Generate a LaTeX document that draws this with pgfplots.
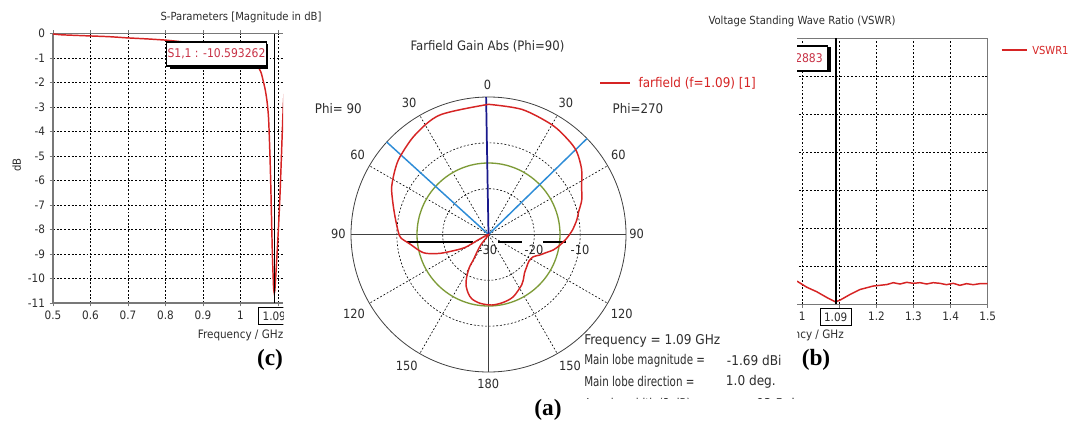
\documentclass[border=0pt]{standalone}
\usepackage{pgfplots}
\pgfplotsset{compat=1.18}
\usepackage{pgfplotstable}
\usepackage{fontspec}
\setmainfont{Liberation Serif}
\newfontfamily\tah{DejaVu Sans Condensed}
\newcommand{\cst}[1]{\tah\fontsize{#1}{#1}\selectfont}
\definecolor{cstred}{RGB}{214,36,36}
\definecolor{mkred}{RGB}{200,50,70}
\definecolor{axgray}{RGB}{120,120,120}
\definecolor{lblue}{RGB}{45,140,215}
\definecolor{navy}{RGB}{25,25,140}
\definecolor{olive}{RGB}{125,155,55}
\definecolor{txt}{RGB}{45,45,45}

% S11 (dB) vs frequency (GHz)
\pgfplotstableread{
f s
0.500 -0.02
0.520 -0.05
0.550 -0.07
0.600 -0.10
0.650 -0.13
0.700 -0.18
0.750 -0.22
0.800 -0.27
0.850 -0.35
0.900 -0.45
0.950 -0.60
1.000 -0.85
1.030 -1.05
1.045 -1.30
1.055 -1.60
1.060 -1.90
1.066 -2.30
1.071 -2.80
1.075 -3.50
1.079 -5.20
1.082 -7.00
1.085 -9.00
1.088 -10.30
1.090 -10.59
1.092 -10.40
1.096 -9.40
1.101 -8.00
1.105 -6.70
1.108 -5.50
1.111 -4.20
1.114 -3.00
1.117 -2.20
}\sdata

% VSWR vs frequency (GHz)
\pgfplotstableread{
f v
0.950 2.55
0.988 2.395
1.012 2.25
1.039 2.13
1.066 1.98
1.088 1.87
1.090 1.865
1.102 1.91
1.129 2.06
1.156 2.19
1.191 2.28
1.228 2.32
1.2455 2.369
1.2635 2.334
1.2815 2.378
1.2995 2.352
1.3175 2.369
1.3355 2.334
1.353 2.369
1.371 2.352
1.389 2.316
1.407 2.352
1.425 2.299
1.443 2.343
1.461 2.316
1.479 2.343
1.500 2.343
}\vswr

% farfield gain (dBi) vs theta (deg, clockwise from top)
\pgfplotstableread{
t g
0 -1.6
15 -1.75
30 -2.35
40 -3.0
46.8 -3.6
55 -5.2
62.8 -7.16
69.7 -8.31
76 -9.75
80.7 -10.49
86.9 -11.65
92.8 -12.92
98.4 -14.23
103.4 -15.47
108.1 -17.02
111.7 -17.91
116.4 -19.09
123.2 -19.44
130.1 -19.09
136.9 -18.5
142.6 -17.5
146.7 -16.82
158.3 -15.38
168 -14.83
177.4 -14.6
187 -14.88
194.3 -15.47
199 -16.43
204 -17.93
207.3 -19.64
210.3 -21.8
210.8 -23.52
213.3 -25.44
216.9 -27.27
225 -30
242.4 -27.4
241.1 -24.13
246.2 -20.82
249.4 -18.22
254.4 -15.23
263.1 -12.74
267.7 -10.89
271.6 -10.32
280.8 -9.23
289.8 -7.74
296.3 -6.44
304.6 -5.21
311.3 -4.30
323.6 -3.0
337.9 -1.85
360 -1.6
}\farf

\pgfplotstableread{
t g
-47.75 -30
-47.75 0
}\bwl
\pgfplotstableread{
t g
45.75 -30
45.75 0
}\bwr
\pgfplotstableread{
t g
-1 -30
-1 0
}\mainlobe

\begin{document}
\begin{tikzpicture}
\useasboundingbox (0,0) rectangle (802.5pt,-318.75pt);
\clip (0,0) rectangle (802.5pt,-318.75pt);
\fill[white] (0,0) rectangle (802.5pt,-318.75pt);

% ---------------- (c) S-parameters ----------------
\begin{scope}
\clip (0,0) rectangle (212.6pt,-318.75pt);
\begin{axis}[
  scale only axis, width=172.5pt, height=202.125pt,
  at={(39.75pt,-25.125pt)}, anchor=north west,
  xmin=0.5, xmax=1.11333, ymin=-11, ymax=0,
  axis x line*=box, axis y line*=left,
  axis line style={axgray, line width=0.8pt},
  xtick={0.5,0.6,0.7,0.8,0.9,1.0,1.1},
  xticklabels={0.5,0.6,0.7,0.8,0.9,1,},
  ytick={-11,-10,-9,-8,-7,-6,-5,-4,-3,-2,-1,0},
  yticklabels={-11,-10,-9,-8,-7,-6,-5,-4,-3,-2,-1,0},
  tick align=outside, major tick length=2.5pt,
  tick style={axgray, line width=0.6pt},
  grid=major, grid style={black, line width=0.5pt, dash pattern=on 1.4pt off 1.4pt},
  ticklabel style={font=\cst{8.7}, text=txt},
  clip mode=individual,
]
\addplot[cstred, line width=1.1pt, smooth, tension=0.4] table[x=f, y=s] {\sdata};
\addplot[black, line width=1.1pt] coordinates {(1.09,-11) (1.09,0)};
\node[draw=black, line width=0.5pt, anchor=north, minimum width=23.25pt, minimum height=12.75pt, inner sep=1pt, font=\cst{8.7}, text=txt] at (axis cs:1.09,-11) [yshift=-3pt] {1.09};
\end{axis}
\end{scope}

\begin{scope}[x=0.75pt,y=-0.75pt]
\node[font=\cst{8.4}, text=txt] at (241,17) {S-Parameters [Magnitude in dB]};
\node[font=\cst{8.4}, text=txt, rotate=90] at (16.7,165) {dB};
\begin{scope}
\clip (0,0) rectangle (283.8,425);
\node[font=\cst{8.7}, text=txt, anchor=east, inner sep=0pt] at (283.5,335) {Frequency / GHz};
\end{scope}
\draw[black, line width=1.6pt] (170,67.5) -- (266.5,67.5) -- (266.5,43.5);
\node[draw=black, line width=0.9pt, fill=white, minimum width=72.75pt, minimum height=18pt, inner sep=1pt, font=\cst{9}, text=mkred] at (216.5,54) {S1,1 : -10.593262};
\node[font=\bfseries\fontsize{17.5}{18}\selectfont] at (270,360) {(c)};
\end{scope}

% ---------------- (a) polar ----------------
\begin{scope}[x=0.75pt,y=-0.75pt]
\def\cx{488.5}\def\cy{234.5}
\foreach \a in {30,60,120,150,-30,-60,-120,-150}
  \draw[black, line width=0.45pt, dash pattern=on 1.4pt off 1.4pt] (\cx,\cy) -- ++(\a-90:137.5);
\draw[black, line width=0.45pt, dash pattern=on 1.4pt off 1.4pt] (\cx,\cy) circle[radius=45.83];
\draw[black, line width=0.45pt, dash pattern=on 1.4pt off 1.4pt] (\cx,\cy) circle[radius=91.67];
\draw[black!75, line width=0.6pt] (\cx,\cy) circle[radius=137.5];
\draw[black!75, line width=0.6pt] (351,\cy) -- (626,\cy);
\draw[black!75, line width=0.6pt] (\cx,\cy) -- (\cx,372);
\draw[olive, line width=1pt] (\cx,\cy) circle[radius=71.5];
\draw[black, line width=1.7pt] (406.7,241.7) -- (473.3,241.7);
\draw[black, line width=1.7pt] (498.3,241.7) -- (521.7,241.7);
\draw[black, line width=1.7pt] (543.3,241.7) -- (566,241.7);
\end{scope}

\begin{axis}[
  hide axis, scale only axis, width=206.25pt, height=206.25pt,
  at={(366.375pt,-175.875pt)}, anchor=center,
  xmin=-30, xmax=30, ymin=-30, ymax=30, clip=false,
]
\addplot[lblue, line width=1.1pt] table[x expr={(\thisrow{g}+30)*sin(\thisrow{t})}, y expr={(\thisrow{g}+30)*cos(\thisrow{t})}] {\bwl};
\addplot[lblue, line width=1.1pt] table[x expr={(\thisrow{g}+30)*sin(\thisrow{t})}, y expr={(\thisrow{g}+30)*cos(\thisrow{t})}] {\bwr};
\addplot[navy, line width=1.3pt] table[x expr={(\thisrow{g}+30)*sin(\thisrow{t})}, y expr={(\thisrow{g}+30)*cos(\thisrow{t})}] {\mainlobe};
\addplot[cstred, line width=1.1pt, smooth, tension=0.5] table[x expr={(\thisrow{g}+30)*sin(\thisrow{t})}, y expr={(\thisrow{g}+30)*cos(\thisrow{t})}] {\farf};
\end{axis}

\begin{scope}[x=0.75pt,y=-0.75pt]
\node[font=\cst{9.75}, text=txt] at (487.5,46.7) {Farfield Gain Abs (Phi=90)};
\node[font=\cst{9.5}, text=txt] at (487.5,85) {0};
\node[font=\cst{9.5}, text=txt] at (409,103.3) {30};
\node[font=\cst{9.5}, text=txt] at (565.8,103.3) {30};
\node[font=\cst{9.5}, text=txt] at (357.5,155) {60};
\node[font=\cst{9.5}, text=txt] at (618.3,155) {60};
\node[font=\cst{9.5}, text=txt] at (338.3,234.3) {90};
\node[font=\cst{9.5}, text=txt] at (636.7,234.3) {90};
\node[font=\cst{9.5}, text=txt] at (354,314.3) {120};
\node[font=\cst{9.5}, text=txt] at (621.7,314.3) {120};
\node[font=\cst{9.5}, text=txt] at (406.7,365.7) {150};
\node[font=\cst{9.5}, text=txt] at (570,365.7) {150};
\node[font=\cst{9.5}, text=txt] at (488.3,384.3) {180};
\node[font=\cst{9.5}, text=txt] at (487.7,250) {-30};
\node[font=\cst{9.5}, text=txt] at (534,250) {-20};
\node[font=\cst{9.5}, text=txt] at (580,250) {-10};
\node[font=\cst{9.9}, text=txt] at (338.3,108.3) {Phi= 90};
\node[font=\cst{9.9}, text=txt] at (638,108.3) {Phi=270};
\draw[draw=cstred, line width=1.3pt] (600,83.3) -- (630,83.3);
\node[font=\cst{10}, text=cstred, anchor=west, inner sep=0pt] at (638.3,83.3) {farfield (f=1.09) [1]};
\node[font=\cst{10.1}, text=txt, anchor=west, inner sep=0pt] at (584,340.7) {Frequency = 1.09 GHz};
\node[font=\cst{10.1}, text=txt, anchor=west, inner sep=0pt] at (584,360.7) {\scalebox{0.85}[1]{Main lobe magnitude =}};
\node[font=\cst{10.1}, text=txt, anchor=west, inner sep=0pt] at (726.7,360.7) {-1.69 dBi};
\node[font=\cst{10.1}, text=txt, anchor=west, inner sep=0pt] at (584,381.7) {\scalebox{0.85}[1]{Main lobe direction =}};
\node[font=\cst{10.1}, text=txt, anchor=west, inner sep=0pt] at (725.7,381.7) {1.0 deg.};
\begin{scope}
\clip (570,390) rectangle (800,398.5);
\node[font=\cst{10.1}, text=txt, anchor=west, inner sep=0pt] at (584,404.5) {\scalebox{0.85}[1]{Angular width (3 dB) =}};
\node[font=\cst{10.1}, text=txt, anchor=west, inner sep=0pt] at (756,404.5) {93.5 deg.};
\end{scope}
\node[font=\bfseries\fontsize{17.5}{18}\selectfont] at (548,410) {(a)};
\end{scope}

% ---------------- (b) VSWR ----------------
\begin{scope}
\clip (597.75pt,0) rectangle (802.5pt,-318.75pt);
\begin{axis}[
  scale only axis, width=166.875pt, height=199.5pt,
  at={(573.9pt,-28.725pt)}, anchor=north west,
  xmin=0.9, xmax=1.5, ymin=1.8, ymax=8.8,
  axis line style={axgray, line width=0.8pt},
  xtick={1.0,1.1,1.2,1.3,1.4,1.5},
  xticklabels={1,,1.2,1.3,1.4,1.5},
  ytick={1.8,2.8,3.8,4.8,5.8,6.8,7.8,8.8},
  yticklabels={},
  xtick pos=left, ytick pos=left,
  tick align=outside, major tick length=2.5pt,
  tick style={axgray, line width=0.6pt},
  grid=major, grid style={black, line width=0.5pt, dash pattern=on 1.4pt off 1.4pt},
  ticklabel style={font=\cst{8.7}, text=txt},
  clip mode=individual,
]
\addplot[cstred, line width=1.1pt] table[x=f, y=v] {\vswr};
\addplot[black, line width=1.3pt] coordinates {(1.09,1.8) (1.09,8.8)};
\node[draw=black, line width=0.5pt, anchor=north, minimum width=23.25pt, minimum height=12.75pt, inner sep=1pt, font=\cst{8.7}, text=txt] at (axis cs:1.09,1.8) [yshift=-3pt] {1.09};
\end{axis}
\begin{scope}[x=0.75pt,y=-0.75pt]
\node[font=\cst{8.7}, text=txt, anchor=east, inner sep=0pt] at (844,335) {Frequency / GHz};
\draw[black, line width=1.6pt] (790,71) -- (829.5,71) -- (829.5,47);
\node[draw=black, line width=0.9pt, fill=white, anchor=east, minimum height=18.5pt, inner xsep=3.5pt, font=\cst{9}, text=mkred] at (828,58.3) {VSWR1 : 1.8382883};
\end{scope}
\end{scope}

\begin{scope}[x=0.75pt,y=-0.75pt]
\node[font=\cst{8.4}, text=txt] at (802,21.7) {Voltage Standing Wave Ratio (VSWR)};
\draw[draw=cstred, line width=1pt] (1001.7,50) -- (1026.7,50);
\node[font=\cst{8.3}, text=cstred, anchor=west, inner sep=0pt] at (1032,50) {VSWR1};
\node[font=\bfseries\fontsize{17.5}{18}\selectfont] at (816,360) {(b)};
\end{scope}

\end{tikzpicture}
\end{document}
